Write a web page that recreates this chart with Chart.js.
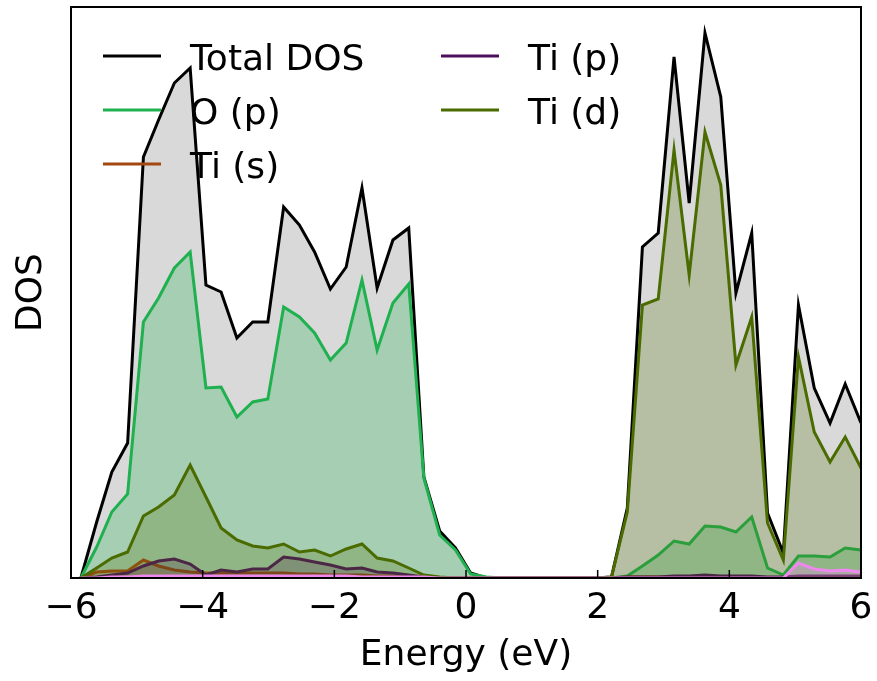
<!DOCTYPE html>
<html>
<head>
<meta charset="utf-8">
<script src="https://cdn.jsdelivr.net/npm/chart.js@4.4.1/dist/chart.umd.min.js"></script>
<style>
  html, body { margin: 0; padding: 0; background: #fff; }
</style>
</head>
<body>
<canvas id="dos" width="877" height="681"></canvas>
<script>
// energia (eV) dos pontos
const energias = [-5.85, -5.61, -5.38, -5.14, -4.90, -4.67, -4.43, -4.19, -3.95, -3.72,
  -3.48, -3.24, -3.01, -2.77, -2.53, -2.30, -2.06, -1.82, -1.58, -1.35,
  -1.11, -0.87, -0.64, -0.40, -0.16, 0.07, 0.31, 0.55, 0.79, 1.02,
  1.26, 1.50, 1.73, 1.97, 2.21, 2.45, 2.68, 2.92, 3.16, 3.39,
  3.63, 3.87, 4.10, 4.34, 4.58, 4.82, 5.05, 5.29, 5.53, 5.76, 6.00];

const dosTotal = [0, 5.6, 10.6, 13.5, 42.1, 45.8, 49.5, 51.0, 29.3, 28.6,
  24.0, 25.6, 25.6, 37.1, 35.3, 32.6, 28.9, 31.1, 39.0, 29.0,
  33.8, 35.0, 10.1, 4.7, 3.0, 0.5, 0, 0, 0, 0,
  0, 0, 0, 0, 0.1, 7.0, 33.1, 34.5, 52.1, 37.5,
  54.5, 48.1, 28.5, 34.5, 6.5, 2.5, 27.3, 19.0, 15.5, 19.4, 15.5];

const dosOp = [0, 3.1, 6.6, 8.4, 25.6, 28.0, 31.0, 32.6, 19.0, 19.1,
  16.1, 17.6, 17.9, 27.1, 26.1, 24.5, 21.8, 23.5, 29.8, 22.8,
  27.5, 29.4, 10.0, 4.3, 2.8, 0.4, 0.1, 0, 0, 0,
  0, 0, 0, 0, 0, 0.2, 1.2, 2.3, 3.7, 3.4,
  5.2, 5.1, 4.6, 6.1, 1.0, 0.3, 2.2, 2.2, 2.1, 3.0, 2.8];

const dosTiS = [0, 0.6, 0.7, 0.7, 1.8, 1.2, 0.8, 0.6, 0.5, 0.5,
  0.5, 0.5, 0.5, 0.5, 0.4, 0.4, 0.3, 0.3, 0.3, 0.2,
  0.2, 0.1, 0.1, 0, 0, 0, 0, 0, 0, 0,
  0, 0, 0, 0, 0, 0.1, 0.1, 0.1, 0.1, 0.1,
  0.1, 0.1, 0.1, 0.1, 0, 0, 0.1, 0.1, 0.1, 0.1, 0.1];

const dosTiP = [0, 0.1, 0.3, 0.5, 1.2, 1.7, 1.9, 1.4, 0.3, 0.8,
  0.6, 0.9, 0.9, 2.1, 1.9, 1.6, 1.3, 0.9, 1.0, 0.6,
  0.5, 0.3, 0.1, 0, 0, 0, 0, 0, 0, 0,
  0, 0, 0, 0, 0, 0.1, 0.1, 0.1, 0.2, 0.2,
  0.3, 0.2, 0.2, 0.2, 0.1, 0.1, 0.2, 0.2, 0.2, 0.2, 0.2];

const dosTiD = [0, 1.0, 2.0, 2.6, 6.2, 7.1, 8.3, 11.3, 8.1, 5.0,
  3.8, 3.2, 3.0, 3.4, 2.6, 2.8, 2.2, 2.9, 3.4, 2.0,
  1.7, 1.0, 0.3, 0.1, 0, 0, 0, 0, 0, 0,
  0, 0, 0, 0, 0.1, 6.6, 27.3, 27.9, 42.8, 30.3,
  44.6, 39.3, 21.3, 26.1, 5.5, 1.8, 22.1, 14.6, 11.6, 14.1, 11.0];

// curva rosa sem entrada na legenda
const dosOs = [0, 0, 0.1, 0.1, 0.2, 0.2, 0.2, 0.2, 0.2, 0.2,
  0.2, 0.2, 0.2, 0.2, 0.2, 0.2, 0.2, 0.2, 0.1, 0.1,
  0.1, 0.1, 0.1, 0, 0, 0, 0, 0, 0, 0,
  0, 0, 0, 0, 0, 0, 0, 0, 0, 0,
  0, 0, 0, 0, 0, 0, 1.5, 0.9, 0.7, 0.8, 0.6];

const ticksX = [-6, -4, -2, 0, 2, 4, 6];

const FONTE = 'DejaVu Sans';
const pares = (ys) => ys.map((y, i) => ({ x: energias[i], y: y }));

function serie(label, ys, cor, fundo, ordem, naLegenda) {
    return {
        label: label,
        data: pares(ys),
        borderColor: cor,
        backgroundColor: fundo,
        borderWidth: 3,
        pointRadius: 0,
        tension: 0,
        fill: 'origin',
        order: ordem,
        naLegenda: naLegenda
    };
}

// moldura + ticks para dentro
const moldura = {
    id: 'moldura',
    afterDatasetsDraw(chart) {
        const { ctx, chartArea: a, scales: { x } } = chart;
        ctx.save();
        ctx.strokeStyle = '#000';
        ctx.lineWidth = 1.5;
        ticksX.forEach(v => {
            const px = x.getPixelForValue(v);
            ctx.beginPath();
            ctx.moveTo(px, a.bottom);
            ctx.lineTo(px, a.bottom - 8);
            ctx.stroke();
        });
        ctx.lineWidth = 2;
        ctx.strokeRect(a.left, a.top, a.right - a.left, a.bottom - a.top);
        ctx.restore();
    }
};

// legenda em duas colunas dentro do grafico
const legenda = {
    id: 'legenda',
    afterDatasetsDraw(chart) {
        const { ctx } = chart;
        const itens = chart.data.datasets.filter(d => d.naLegenda);
        const colunas = [{ x: 103, n: 3 }, { x: 441, n: 2 }];
        ctx.save();
        ctx.font = '36px "' + FONTE + '"';
        ctx.fillStyle = '#000';
        ctx.textBaseline = 'alphabetic';
        let idx = 0;
        colunas.forEach(c => {
            for (let r = 0; r < c.n; r++) {
                const d = itens[idx++];
                if (!d) return;
                const y = 56 + r * 54;
                ctx.strokeStyle = d.borderColor;
                ctx.lineWidth = 3;
                ctx.beginPath();
                ctx.moveTo(c.x, y);
                ctx.lineTo(c.x + 58, y);
                ctx.stroke();
                ctx.fillText(d.label, c.x + 87, y + 14);
            }
        });
        ctx.restore();
    }
};

new Chart(document.getElementById('dos'), {
    type: 'line',
    data: {
        datasets: [
            serie('Total DOS', dosTotal, '#000000', 'rgba(128,128,128,0.3)', 6, true),
            serie('O (p)', dosOp, '#1fb04f', 'rgba(31,176,79,0.27)', 5, true),
            serie('Ti (s)', dosTiS, '#a3490f', 'rgba(163,73,15,0.25)', 4, true),
            serie('Ti (p)', dosTiP, '#4d0f5c', 'rgba(77,15,92,0.25)', 3, true),
            serie('Ti (d)', dosTiD, '#4a6b00', 'rgba(74,107,0,0.25)', 2, true),
            serie('O (s)', dosOs, '#ee88ee', 'rgba(238,136,238,0.3)', 0, false)
        ]
    },
    options: {
        responsive: false,
        animation: false,
        layout: { padding: { top: 7, right: 16, left: 0, bottom: 0 } },
        plugins: {
            legend: { display: false },
            tooltip: { enabled: false }
        },
        scales: {
            x: {
                type: 'linear',
                min: -6,
                max: 6,
                afterFit: (s) => { s.height = 103; },
                afterBuildTicks: (s) => { s.ticks = ticksX.map(v => ({ value: v })); },
                grid: { display: false },
                border: { display: false },
                ticks: {
                    color: '#000',
                    padding: 1,
                    maxRotation: 0,
                    font: { family: FONTE, size: 36 },
                    callback: (v) => v < 0 ? '\u2212' + Math.abs(v) : String(v)
                },
                title: {
                    display: true,
                    text: 'Energy (eV)',
                    color: '#000',
                    font: { family: FONTE, size: 36 },
                    padding: { top: 0, bottom: 4 }
                }
            },
            y: {
                min: 0,
                max: 57.1,
                afterFit: (s) => { s.width = 71; },
                grid: { display: false },
                border: { display: false },
                ticks: { display: false },
                title: {
                    display: true,
                    text: 'DOS',
                    color: '#000',
                    font: { family: FONTE, size: 36 },
                    padding: { top: 10, bottom: 0 }
                }
            }
        }
    },
    plugins: [moldura, legenda]
});
</script>
</body>
</html>
